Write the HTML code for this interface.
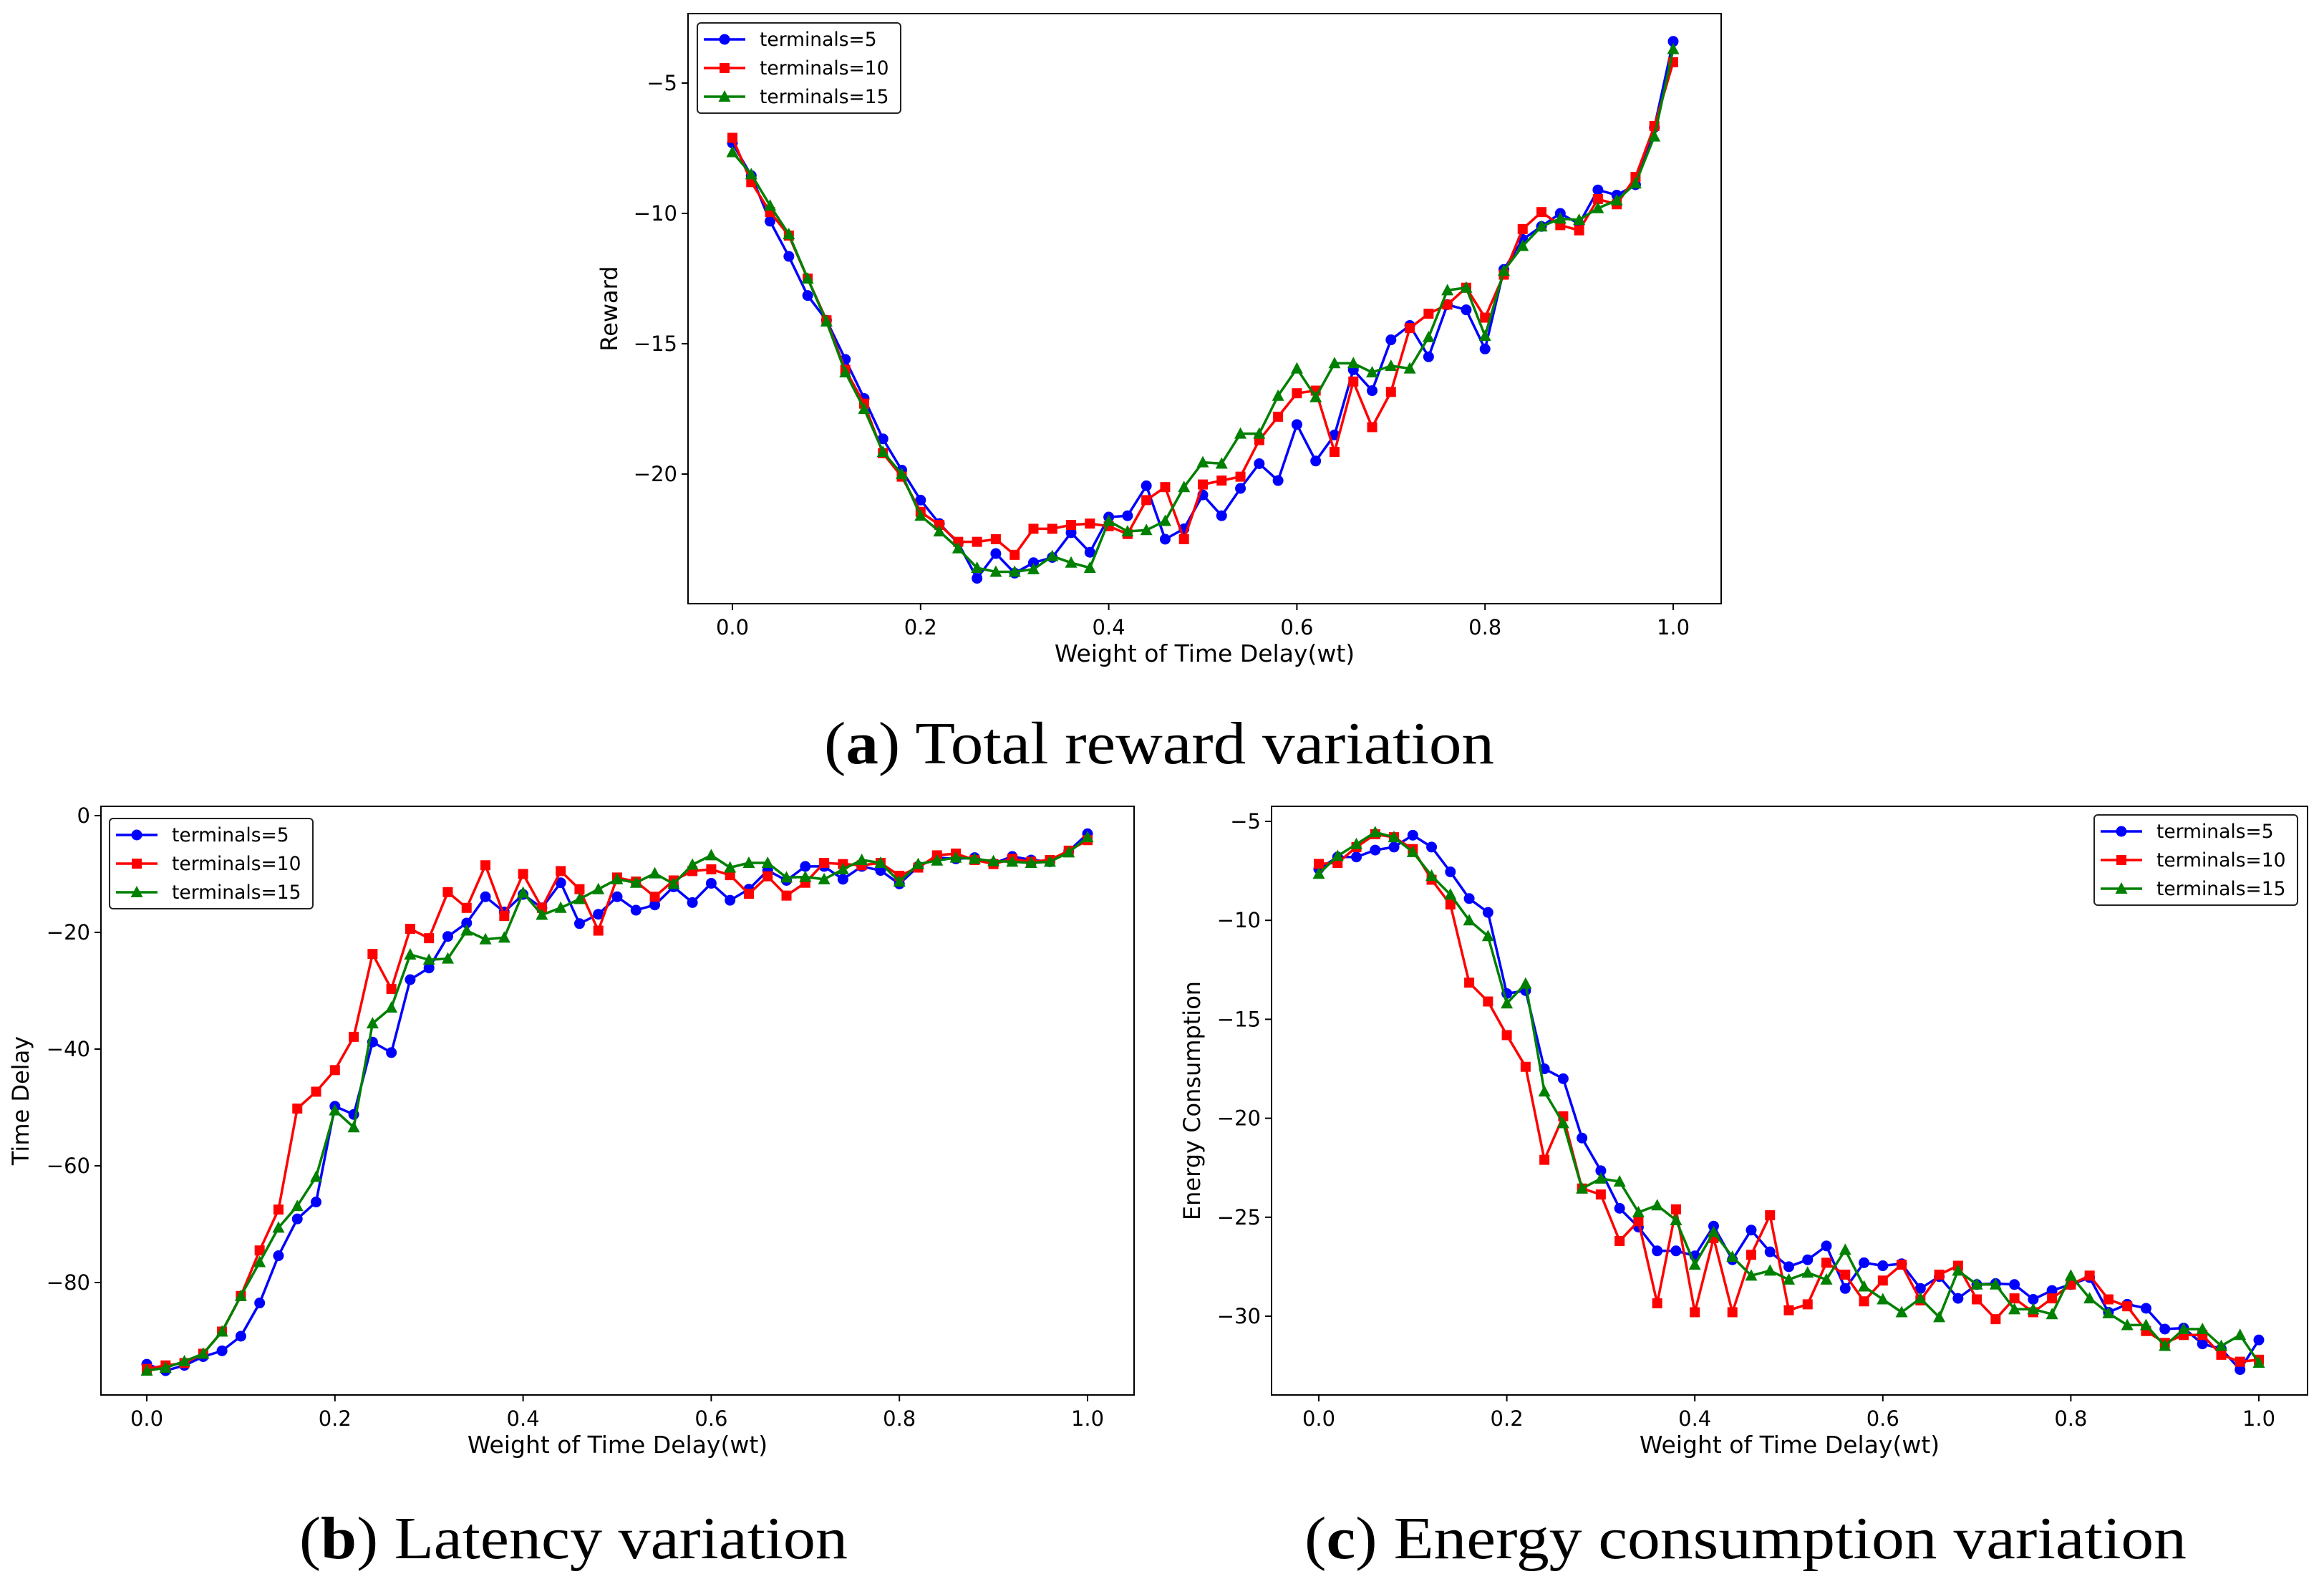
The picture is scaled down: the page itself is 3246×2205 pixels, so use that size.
<!DOCTYPE html>
<html><head><meta charset="utf-8">
<style>
html,body{margin:0;padding:0;background:#fff;}
svg{display:block;}
text{font-family:"DejaVu Sans","Liberation Sans",sans-serif;fill:#000;}
.cap{font-family:"Liberation Serif",serif;font-size:84px;}
</style></head>
<body>
<svg id="fig" width="3246" height="2205" viewBox="0 0 3246 2205" xmlns="http://www.w3.org/2000/svg">
<text class="cap" x="1619" y="1066" text-anchor="middle" textLength="936" lengthAdjust="spacingAndGlyphs">(<tspan font-weight="bold">a</tspan>) Total reward variation</text>
<text class="cap" x="801" y="2176" text-anchor="middle" textLength="766" lengthAdjust="spacingAndGlyphs">(<tspan font-weight="bold">b</tspan>) Latency variation</text>
<text class="cap" x="2438" y="2176" text-anchor="middle" textLength="1232" lengthAdjust="spacingAndGlyphs">(<tspan font-weight="bold">c</tspan>) Energy consumption variation</text>
</svg>
<script>
const xTicks=[0,0.2,0.4,0.6,0.8,1.0];
const xTickLabels=["0.0","0.2","0.4","0.6","0.8","1.0"];
const seriesNames=["terminals=5","terminals=10","terminals=15"];
const rewardT5=[-7.3,-8.55,-10.3,-11.65,-13.15,-14.1,-15.6,-17.1,-18.65,-19.85,-21.0,-21.9,-22.65,-24.0,-23.05,-23.8,-23.4,-23.2,-22.25,-23.0,-21.65,-21.6,-20.45,-22.5,-22.1,-20.8,-21.6,-20.55,-19.6,-20.25,-18.1,-19.5,-18.5,-16.0,-16.8,-14.85,-14.3,-15.5,-13.5,-13.7,-15.2,-12.15,-11.0,-10.5,-10.0,-10.4,-9.1,-9.3,-8.9,-6.7,-3.4];
const rewardT10=[-7.1,-8.8,-9.95,-10.85,-12.5,-14.1,-16.0,-17.3,-19.2,-20.1,-21.45,-21.95,-22.6,-22.6,-22.5,-23.1,-22.1,-22.1,-21.95,-21.9,-22.0,-22.3,-21.0,-20.5,-22.5,-20.4,-20.25,-20.1,-18.7,-17.8,-16.9,-16.8,-19.15,-16.45,-18.2,-16.85,-14.4,-13.85,-13.5,-12.85,-14.0,-12.35,-10.6,-9.95,-10.45,-10.65,-9.45,-9.65,-8.6,-6.65,-4.2];
const rewardT15=[-7.65,-8.5,-9.7,-10.8,-12.5,-14.15,-16.1,-17.5,-19.15,-20.0,-21.6,-22.2,-22.85,-23.6,-23.75,-23.75,-23.65,-23.15,-23.4,-23.6,-21.8,-22.2,-22.15,-21.8,-20.5,-19.55,-19.6,-18.45,-18.45,-17.0,-15.95,-17.05,-15.75,-15.75,-16.1,-15.85,-15.95,-14.75,-12.95,-12.85,-14.7,-12.2,-11.25,-10.5,-10.2,-10.25,-9.8,-9.5,-8.85,-7.05,-3.7];
const delayT5=[-94.0,-95.1,-94.2,-92.7,-91.7,-89.2,-83.5,-75.4,-69.1,-66.2,-49.8,-51.2,-38.8,-40.6,-28.1,-26.1,-20.7,-18.4,-13.9,-16.5,-13.5,-15.8,-11.5,-18.5,-16.9,-13.9,-16.2,-15.3,-12.2,-14.9,-11.6,-14.5,-12.6,-9.4,-11.1,-8.7,-8.7,-10.9,-8.7,-9.4,-11.7,-8.7,-7.2,-7.4,-7.2,-8.2,-7.0,-7.6,-7.9,-6.1,-3.1];
const delayT10=[-94.8,-94.2,-93.8,-92.2,-88.4,-82.3,-74.5,-67.5,-50.2,-47.3,-43.6,-37.9,-23.7,-29.7,-19.4,-21.0,-13.1,-15.8,-8.5,-17.2,-10.0,-15.8,-9.5,-12.6,-19.7,-10.6,-11.3,-13.9,-11.1,-9.5,-9.2,-10.2,-13.4,-10.4,-13.7,-11.5,-8.1,-8.3,-8.5,-8.1,-10.3,-8.9,-6.8,-6.5,-7.6,-8.3,-7.4,-7.9,-7.6,-6.0,-4.2];
const delayT15=[-95.1,-94.6,-93.5,-92.2,-88.4,-82.3,-76.5,-70.6,-66.9,-61.9,-50.5,-53.4,-35.6,-32.9,-23.8,-24.7,-24.5,-19.7,-21.2,-20.9,-13.2,-17.0,-15.8,-14.3,-12.6,-10.9,-11.5,-9.9,-11.7,-8.4,-6.8,-8.9,-8.1,-8.1,-10.6,-10.5,-10.9,-9.2,-7.6,-8.1,-11.3,-8.3,-7.7,-7.2,-7.4,-7.8,-7.9,-8.1,-7.9,-6.3,-3.7];
const energyT5=[-7.4,-6.8,-6.8,-6.45,-6.3,-5.7,-6.3,-7.55,-8.9,-9.6,-13.7,-13.55,-17.5,-18.0,-21.0,-22.65,-24.55,-25.5,-26.7,-26.7,-26.95,-25.45,-27.15,-25.65,-26.75,-27.5,-27.15,-26.45,-28.6,-27.3,-27.45,-27.35,-28.6,-28.0,-29.1,-28.4,-28.35,-28.4,-29.15,-28.7,-28.4,-28.05,-29.8,-29.4,-29.6,-30.65,-30.6,-31.4,-31.65,-32.7,-31.2];
const energyT10=[-7.15,-7.1,-6.3,-5.65,-5.8,-6.4,-7.95,-9.2,-13.15,-14.1,-15.8,-17.4,-22.1,-19.9,-23.55,-23.85,-26.2,-25.2,-29.35,-24.6,-29.8,-26.05,-29.8,-26.9,-24.9,-29.7,-29.4,-27.3,-27.9,-29.25,-28.2,-27.4,-29.2,-27.9,-27.45,-29.15,-30.15,-29.1,-29.8,-29.1,-28.4,-27.95,-29.15,-29.5,-30.75,-31.35,-30.95,-30.95,-31.95,-32.3,-32.2];
const energyT15=[-7.65,-6.75,-6.15,-5.55,-5.8,-6.55,-7.75,-8.7,-10.0,-10.8,-14.2,-13.2,-18.65,-20.25,-23.55,-23.05,-23.2,-24.75,-24.4,-25.15,-27.4,-25.75,-27.0,-27.95,-27.7,-28.15,-27.8,-28.15,-26.65,-28.5,-29.15,-29.8,-29.1,-30.05,-27.7,-28.4,-28.4,-29.65,-29.65,-29.9,-27.95,-29.1,-29.85,-30.45,-30.45,-31.5,-30.65,-30.65,-31.5,-30.95,-32.35];
const rewardYTicks=[-5,-10,-15,-20];
const delayYTicks=[0,-20,-40,-60,-80];
const energyYTicks=[-5,-10,-15,-20,-25,-30];

const NS="http://www.w3.org/2000/svg";
const svg=document.getElementById('fig');
const colors=["#0000ff","#ff0000","#008000"];
function mk(tag,attrs,parent){const e=document.createElementNS(NS,tag);for(const k in attrs)e.setAttribute(k,attrs[k]);(parent||svg).appendChild(e);return e;}
function marker(g,kind,cx,cy,color){
  let m;
  if(kind===0){m=mk('circle',{cx:cx,cy:cy,r:7.5,fill:color},g);}
  else if(kind===1){m=mk('rect',{x:cx-7,y:cy-7,width:14,height:14,fill:color},g);}
  else{m=mk('polygon',{points:`${cx},${cy-9} ${cx-8.5},${cy+7} ${cx+8.5},${cy+7}`,fill:color},g);}
  
  
}
function chart(cfg){
  const g=mk('g',{});
  
  
  const X=v=>cfg.x0+(cfg.x1-cfg.x0)*v;
  const Y=v=>cfg.yA+(v-cfg.vA)*(cfg.yB-cfg.yA)/(cfg.vB-cfg.vA);
  const ax=mk('rect',{x:cfg.L,y:cfg.T,width:cfg.R-cfg.L,height:cfg.B-cfg.T,fill:'none',stroke:'#000','stroke-width':2},g);
  
  
  xTicks.forEach((t,i)=>{
    const x=X(t);
    const tk=mk('line',{x1:x,x2:x,y1:cfg.B,y2:cfg.B+9,stroke:'#000','stroke-width':2},g);
    
    
    const tl=mk('text',{x:x,y:cfg.B+43,'font-size':29,'text-anchor':'middle'},g);
    tl.textContent=xTickLabels[i];
    
    
  });
  cfg.yTicks.forEach(t=>{
    const y=Y(t);
    const tk=mk('line',{x1:cfg.L-9,x2:cfg.L,y1:y,y2:y,stroke:'#000','stroke-width':2},g);
    
    
    const tl=mk('text',{x:cfg.L-15,y:y+10,'font-size':29,'text-anchor':'end'},g);
    tl.textContent=(t<0?'\u2212'+(-t):''+t);
    
    
  });
  const xl=mk('text',{x:(cfg.L+cfg.R)/2,y:cfg.B+81,'font-size':33,'text-anchor':'middle'},g);
  xl.textContent='Weight of Time Delay(wt)';
  
  
  const yl=mk('text',{x:cfg.ylx,y:(cfg.T+cfg.B)/2,'font-size':32,'text-anchor':'middle',transform:`rotate(-90 ${cfg.ylx} ${(cfg.T+cfg.B)/2})`},g);
  yl.textContent=cfg.ylabel;
  
  
  cfg.series.forEach((s,k)=>{
    const sg=mk('g',{},g);
    
    
    const pts=s.map((v,i)=>X(i/(s.length-1)).toFixed(1)+','+Y(v).toFixed(1)).join(' ');
    const pl=mk('polyline',{points:pts,fill:'none',stroke:colors[k],'stroke-width':3.5,'stroke-linejoin':'round'},sg);
    
    
    s.forEach((v,i)=>marker(sg,k,X(i/(s.length-1)),Y(v),colors[k]));
  });
  const lg=mk('g',{},g);
  
  
  const lx=cfg.legX,ly=cfg.legY;
  mk('rect',{x:lx,y:ly,width:284,height:126,rx:5,fill:'#fff',stroke:'#222','stroke-width':2,'fill-opacity':0.9},lg);
  seriesNames.forEach((n,k)=>{
    const cy=ly+23+k*40;
    const e=mk('g',{},lg);
    
    
    mk('line',{x1:lx+9,x2:lx+67,y1:cy,y2:cy,stroke:colors[k],'stroke-width':3.5},e);
    marker(e,k,lx+38,cy,colors[k]);
    const t=mk('text',{x:lx+87,y:cy+9,'font-size':26.5},e);
    t.textContent=n;
  });
}
chart({name:'chart-total-reward',L:961,R:2404,T:19,B:843,x0:1023,x1:2337,vA:-5,yA:116,vB:-20,yB:662,
  yTicks:rewardYTicks,ylabel:'Reward',ylx:862,series:[rewardT5,rewardT10,rewardT15],legX:974,legY:32});
chart({name:'chart-latency',L:141,R:1584,T:1126,B:1948,x0:205,x1:1519,vA:0,yA:1139,vB:-80,yB:1791,
  yTicks:delayYTicks,ylabel:'Time Delay',ylx:40,series:[delayT5,delayT10,delayT15],legX:153,legY:1143});
chart({name:'chart-energy',L:1776,R:3223,T:1126,B:1948,x0:1842,x1:3155,vA:-5,yA:1147,vB:-30,yB:1838,
  yTicks:energyYTicks,ylabel:'Energy Consumption',ylx:1676,series:[energyT5,energyT10,energyT15],legX:2925,legY:1138});
</script>
</body></html>
